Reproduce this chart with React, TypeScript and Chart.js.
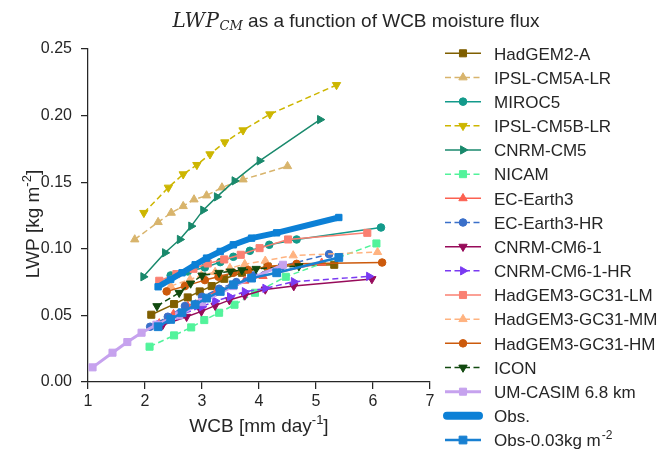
import React, { useEffect, useRef } from 'react';
import { Chart, registerables } from 'chart.js';

Chart.register(...registerables);

const FONT = '"Liberation Sans", Arial, Helvetica, sans-serif';
const SERIF = '"DejaVu Serif", "Liberation Serif", serif';
const TEXT = '#262626';
const DASH = [6, 3.5];

const xTicks = [1, 2, 3, 4, 5, 6, 7];
const yTicks = [0, 0.05, 0.1, 0.15, 0.2, 0.25];

const hadgem2aX = [2.11, 2.51, 2.75, 2.96, 3.17, 3.39, 3.7, 4.15, 5.32];
const hadgem2aY = [0.0505, 0.0585, 0.0635, 0.068, 0.072, 0.0775, 0.082, 0.0867, 0.088];

const ipslAX = [1.82, 2.23, 2.46, 2.67, 2.86, 3.08, 3.35, 3.72, 4.5];
const ipslAY = [0.107, 0.12, 0.127, 0.132, 0.137, 0.14, 0.146, 0.152, 0.162];

const miroc5X = [2.45, 2.75, 3.05, 3.32, 3.55, 3.84, 4.18, 4.66, 6.14];
const miroc5Y = [0.08, 0.083, 0.086, 0.09, 0.094, 0.0985, 0.103, 0.107, 0.116];

const ipslBX = [1.98, 2.41, 2.67, 2.91, 3.14, 3.4, 3.72, 4.19, 5.36];
const ipslBY = [0.127, 0.146, 0.156, 0.163, 0.171, 0.18, 0.189, 0.201, 0.223];

const cnrmCM5X = [1.97, 2.35, 2.61, 2.81, 3.02, 3.26, 3.57, 4.01, 5.07];
const cnrmCM5Y = [0.079, 0.097, 0.107, 0.117, 0.129, 0.139, 0.151, 0.166, 0.197];

const nicamX = [2.08, 2.51, 2.81, 3.04, 3.3, 3.57, 3.93, 4.47, 6.06];
const nicamY = [0.0265, 0.035, 0.041, 0.0465, 0.052, 0.058, 0.067, 0.079, 0.104];

const ecEarth3X = [2.25, 2.5, 2.75, 3.0, 3.25, 3.5, 3.75, 4.07, 5.1];
const ecEarth3Y = [0.044, 0.051, 0.057, 0.063, 0.068, 0.072, 0.076, 0.0795, 0.0895];

const ecEarth3HRX = [2.09, 2.4, 2.7, 3.0, 3.3, 3.6, 3.9, 4.4, 5.23];
const ecEarth3HRY = [0.0415, 0.049, 0.057, 0.064, 0.07, 0.075, 0.08, 0.087, 0.096];

const cnrmCM61X = [2.31, 2.73, 2.99, 3.23, 3.48, 3.75, 4.11, 4.61, 5.98];
const cnrmCM61Y = [0.0428, 0.049, 0.053, 0.0573, 0.0615, 0.065, 0.0695, 0.072, 0.0773];

const cnrmCM61HRX = [2.25, 2.6, 3.0, 3.23, 3.49, 3.75, 4.11, 4.61, 5.93];
const cnrmCM61HRY = [0.043, 0.05, 0.0565, 0.0608, 0.064, 0.0678, 0.0703, 0.0753, 0.0793];

const hg3LMX = [2.25, 2.55, 2.85, 3.1, 3.39, 3.68, 4.01, 4.51, 5.9];
const hg3LMY = [0.076, 0.081, 0.085, 0.089, 0.092, 0.0955, 0.1005, 0.107, 0.112];

const hg3MMX = [2.45, 2.79, 2.99, 3.23, 3.49, 3.75, 4.11, 4.6, 6.08];
const hg3MMY = [0.072, 0.077, 0.08, 0.0825, 0.0855, 0.0885, 0.091, 0.095, 0.0975];

const hg3HMX = [2.38, 2.7, 3.05, 3.29, 3.55, 3.81, 4.16, 4.66, 6.16];
const hg3HMY = [0.068, 0.072, 0.0765, 0.079, 0.082, 0.084, 0.0867, 0.0887, 0.0897];

const iconX = [2.21, 2.6, 2.8, 3.0, 3.3, 3.5, 3.7, 3.95, 4.7];
const iconY = [0.057, 0.067, 0.074, 0.08, 0.082, 0.083, 0.084, 0.085, 0.087];

const casimX = [1.08, 1.43, 1.69, 1.94, 2.2, 2.6, 3.0, 3.55, 4.42];
const casimY = [0.011, 0.022, 0.03, 0.037, 0.043, 0.05, 0.06, 0.072, 0.088];

const obsX = [2.23, 2.45, 2.65, 2.88, 3.08, 3.32, 3.55, 3.87, 4.31, 5.4];
const obsY = [0.0715, 0.077, 0.082, 0.088, 0.093, 0.098, 0.103, 0.108, 0.112, 0.1235];
const obsLowY = [0.0415, 0.047, 0.052, 0.058, 0.063, 0.068, 0.073, 0.078, 0.082, 0.0935];

type Series = {
  name: string;
  sup?: string;
  x: number[];
  y: number[];
  color: string;
  dashed: boolean;
  marker: 'rect' | 'circle' | 'triangle' | false;
  rot: number;
  r: number;
  width: number;
  legendWidth?: number;
  round?: boolean;
};

const series: Series[] = [
  { name: 'HadGEM2-A', x: hadgem2aX, y: hadgem2aY, color: '#7f5f00', dashed: false, marker: 'rect', rot: 0, r: 5, width: 1.5 },
  { name: 'IPSL-CM5A-LR', x: ipslAX, y: ipslAY, color: '#d8b46c', dashed: true, marker: 'triangle', rot: 0, r: 4.8, width: 1.5 },
  { name: 'MIROC5', x: miroc5X, y: miroc5Y, color: '#139a8b', dashed: false, marker: 'circle', rot: 0, r: 3.8, width: 1.5 },
  { name: 'IPSL-CM5B-LR', x: ipslBX, y: ipslBY, color: '#cdb600', dashed: true, marker: 'triangle', rot: 180, r: 4.8, width: 1.5 },
  { name: 'CNRM-CM5', x: cnrmCM5X, y: cnrmCM5Y, color: '#19896c', dashed: false, marker: 'triangle', rot: 90, r: 4.8, width: 1.5 },
  { name: 'NICAM', x: nicamX, y: nicamY, color: '#52f39b', dashed: true, marker: 'rect', rot: 0, r: 5, width: 1.5 },
  { name: 'EC-Earth3', x: ecEarth3X, y: ecEarth3Y, color: '#fc6151', dashed: false, marker: 'triangle', rot: 0, r: 4.8, width: 1.5 },
  { name: 'EC-Earth3-HR', x: ecEarth3HRX, y: ecEarth3HRY, color: '#3a6fc9', dashed: true, marker: 'circle', rot: 0, r: 3.8, width: 1.5 },
  { name: 'CNRM-CM6-1', x: cnrmCM61X, y: cnrmCM61Y, color: '#970b5a', dashed: false, marker: 'triangle', rot: 180, r: 4.8, width: 1.5 },
  { name: 'CNRM-CM6-1-HR', x: cnrmCM61HRX, y: cnrmCM61HRY, color: '#7a3af2', dashed: true, marker: 'triangle', rot: 90, r: 4.8, width: 1.5 },
  { name: 'HadGEM3-GC31-LM', x: hg3LMX, y: hg3LMY, color: '#fa8072', dashed: false, marker: 'rect', rot: 0, r: 5, width: 1.5 },
  { name: 'HadGEM3-GC31-MM', x: hg3MMX, y: hg3MMY, color: '#ffb380', dashed: true, marker: 'triangle', rot: 0, r: 4.8, width: 1.5 },
  { name: 'HadGEM3-GC31-HM', x: hg3HMX, y: hg3HMY, color: '#cc5a0c', dashed: false, marker: 'circle', rot: 0, r: 3.8, width: 1.5 },
  { name: 'ICON', x: iconX, y: iconY, color: '#124a10', dashed: true, marker: 'triangle', rot: 180, r: 4.8, width: 1.5 },
  { name: 'UM-CASIM 6.8 km', x: casimX, y: casimY, color: '#c6a2ee', dashed: false, marker: 'rect', rot: 0, r: 5, width: 3 },
  { name: 'Obs.', x: obsX, y: obsY, color: '#0c80d6', dashed: false, marker: 'rect', rot: 0, r: 4.5, width: 6, legendWidth: 8, round: true },
  { name: 'Obs-0.03kg m', sup: '-2', x: obsX, y: obsLowY, color: '#1880d2', dashed: false, marker: 'rect', rot: 0, r: 5.5, width: 2.5 },
];

function drawMarker(ctx: CanvasRenderingContext2D, s: Series, x: number, y: number) {
  if (!s.marker) return;
  ctx.save();
  ctx.setLineDash([]);
  ctx.fillStyle = s.color;
  ctx.strokeStyle = s.color;
  ctx.lineWidth = 1;
  ctx.beginPath();
  if (s.marker === 'rect') {
    const h = Math.SQRT1_2 * s.r;
    ctx.rect(x - h, y - h, 2 * h, 2 * h);
  } else if (s.marker === 'circle') {
    ctx.arc(x, y, s.r, 0, Math.PI * 2);
  } else {
    let a = (s.rot * Math.PI) / 180;
    ctx.moveTo(x + Math.sin(a) * s.r, y - Math.cos(a) * s.r);
    a += (2 * Math.PI) / 3;
    ctx.lineTo(x + Math.sin(a) * s.r, y - Math.cos(a) * s.r);
    a += (2 * Math.PI) / 3;
    ctx.lineTo(x + Math.sin(a) * s.r, y - Math.cos(a) * s.r);
    ctx.closePath();
  }
  ctx.fill();
  ctx.stroke();
  ctx.restore();
}

const annotations = {
  id: 'annotations',
  afterDraw(chart: any) {
    const ctx: CanvasRenderingContext2D = chart.ctx;
    const area = chart.chartArea;
    ctx.save();
    ctx.fillStyle = TEXT;
    ctx.textBaseline = 'alphabetic';
    ctx.textAlign = 'left';

    // Title
    const fMain = `italic 20px ${SERIF}`;
    const fSub = `italic 13px ${SERIF}`;
    const fRest = `19px ${FONT}`;
    const t1 = 'LWP';
    const t2 = 'CM';
    const t3 = ' as a function of WCB moisture flux';
    (ctx as any).letterSpacing = '0.5px';
    ctx.font = fMain;
    const w1 = ctx.measureText(t1).width;
    (ctx as any).letterSpacing = '0px';
    ctx.font = fSub;
    const w2 = ctx.measureText(t2).width;
    ctx.font = fRest;
    const w3 = ctx.measureText(t3).width;
    let tx = 356 - (w1 + w2 + w3) / 2;
    const ty = 27;
    (ctx as any).letterSpacing = '0.5px';
    ctx.font = fMain;
    ctx.fillText(t1, tx, ty);
    (ctx as any).letterSpacing = '0px';
    tx += w1;
    ctx.font = fSub;
    ctx.fillText(t2, tx, ty + 3);
    tx += w2;
    ctx.font = fRest;
    ctx.fillText(t3, tx, ty);

    // X axis title
    const lab = `19px ${FONT}`;
    const supF = `13px ${FONT}`;
    ctx.font = lab;
    const xa = 'WCB [mm day';
    const xb = ']';
    const wa = ctx.measureText(xa).width;
    const wb = ctx.measureText(xb).width;
    ctx.font = supF;
    const ws = ctx.measureText('-1').width;
    let lx = (area.left + area.right) / 2 - (wa + ws + wb) / 2;
    const ly = 432;
    ctx.font = lab;
    ctx.fillText(xa, lx, ly);
    lx += wa;
    ctx.font = supF;
    ctx.fillText('-1', lx, ly - 8);
    lx += ws;
    ctx.font = lab;
    ctx.fillText(xb, lx, ly);

    // Y axis title
    ctx.save();
    ctx.translate(39, 224);
    ctx.rotate(-Math.PI / 2);
    ctx.font = lab;
    const ya = 'LWP [kg m';
    const yw = ctx.measureText(ya).width;
    const ywb = ctx.measureText(']').width;
    ctx.font = supF;
    const yws = ctx.measureText('-2').width;
    let yx = -(yw + yws + ywb) / 2;
    ctx.font = lab;
    ctx.fillText(ya, yx, 0);
    yx += yw;
    ctx.font = supF;
    ctx.fillText('-2', yx, -8);
    yx += yws;
    ctx.font = lab;
    ctx.fillText(']', yx, 0);
    ctx.restore();

    // Legend
    series.forEach((s, i) => {
      const y = 53.3 + 24.17 * i;
      ctx.save();
      ctx.strokeStyle = s.color;
      ctx.lineWidth = s.legendWidth ?? s.width;
      ctx.setLineDash(s.dashed ? DASH : []);
      ctx.lineCap = s.round ? 'round' : 'butt';
      ctx.beginPath();
      if (s.round) {
        ctx.moveTo(447, y);
        ctx.lineTo(479, y);
      } else {
        ctx.moveTo(445, y);
        ctx.lineTo(481, y);
      }
      ctx.stroke();
      ctx.restore();
      if (!s.round) drawMarker(ctx, s, 463, y);
      ctx.fillStyle = TEXT;
      ctx.font = `17px ${FONT}`;
      ctx.fillText(s.name, 494, y + 6.2);
      if (s.sup) {
        const w = ctx.measureText(s.name).width;
        ctx.font = `12px ${FONT}`;
        ctx.fillText(s.sup, 494 + w + 1, y - 1);
      }
    });
    ctx.restore();
  },
};

export default function App() {
  const ref = useRef<HTMLCanvasElement | null>(null);
  useEffect(() => {
    document.body.style.margin = '0';
    const canvas = ref.current;
    if (!canvas) return;
    const chart = new Chart(canvas, {
      type: 'line',
      data: {
        datasets: series.map((s, i) => ({
          label: s.name,
          data: s.x.map((x, j) => ({ x, y: s.y[j] })),
          borderColor: s.color,
          backgroundColor: s.color,
          borderWidth: s.width,
          borderDash: s.dashed ? DASH : [],
          borderCapStyle: s.round ? 'round' : 'butt',
          borderJoinStyle: 'round',
          pointStyle: s.marker,
          pointRotation: s.rot,
          pointRadius: s.r,
          pointHoverRadius: s.r,
          pointBorderWidth: 1,
          pointBackgroundColor: s.color,
          pointBorderColor: s.color,
          tension: 0,
          fill: false,
          order: series.length - i,
        })) as any,
      },
      options: {
        animation: false,
        responsive: false,
        events: [],
        layout: { padding: { top: 49, right: 229, left: 0, bottom: 0 } },
        plugins: {
          legend: { display: false },
          title: { display: false },
          tooltip: { enabled: false },
        },
        scales: {
          x: {
            type: 'linear',
            min: 1,
            max: 7,
            afterBuildTicks: (sc: any) => {
              sc.ticks = xTicks.map((v) => ({ value: v }));
            },
            afterFit: (sc: any) => {
              sc.height = 68;
            },
            ticks: {
              color: TEXT,
              font: { family: FONT, size: 16 },
              padding: 3,
              maxRotation: 0,
              autoSkip: false,
              callback: (v: any) => String(v),
            },
            grid: { drawOnChartArea: false, drawTicks: true, tickLength: 7, color: TEXT, lineWidth: 1.25 },
            border: { display: true, color: TEXT, width: 1.25 },
          },
          y: {
            type: 'linear',
            min: 0,
            max: 0.25,
            afterBuildTicks: (sc: any) => {
              sc.ticks = yTicks.map((v) => ({ value: v }));
            },
            afterFit: (sc: any) => {
              sc.width = 88;
            },
            ticks: {
              color: TEXT,
              font: { family: FONT, size: 16 },
              padding: 9,
              autoSkip: false,
              callback: (v: any) => Number(v).toFixed(2),
            },
            grid: { drawOnChartArea: false, drawTicks: true, tickLength: 7, color: TEXT, lineWidth: 1.25 },
            border: { display: true, color: TEXT, width: 1.25 },
          },
        },
      } as any,
      plugins: [annotations],
    });
    return () => chart.destroy();
  }, []);
  return (
    <div style={{ width: 659, height: 450, background: '#ffffff' }}>
      <canvas ref={ref} width={659} height={450} style={{ display: 'block', width: 659, height: 450 }} />
    </div>
  );
}
